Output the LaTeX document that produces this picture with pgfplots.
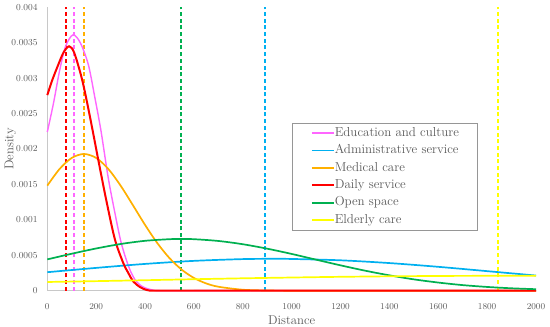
\documentclass[border=0pt]{standalone}
\usepackage{pgfplots}
\pgfplotsset{compat=1.18}
\definecolor{cpink}{RGB}{255,102,255}
\definecolor{cblue}{RGB}{0,176,240}
\definecolor{corange}{RGB}{255,176,0}
\definecolor{cred}{RGB}{255,0,0}
\definecolor{cgreen}{RGB}{0,176,80}
\definecolor{cyellow}{RGB}{255,255,0}
\definecolor{txtgray}{RGB}{89,89,89}
\definecolor{axisgray}{RGB}{200,200,200}
\definecolor{legendgray}{RGB}{150,150,150}
\newcommand{\legtxt}[1]{\textcolor{txtgray}{#1}}
\begin{document}
\begin{tikzpicture}
\useasboundingbox (-47.3bp,-36.3bp) rectangle (502.7bp,290.7bp);
\begin{axis}[
  at={(0,0)}, anchor=south west,
  width=488.7bp, height=283.4bp, scale only axis,
  xmin=0, xmax=2000, ymin=0, ymax=0.004,
  clip=false,
  axis x line=bottom, axis y line=left,
  axis line style={draw=axisgray, line width=0.8bp, -},
  xtick={0,200,400,600,800,1000,1200,1400,1600,1800,2000},
  ytick={0,0.0005,0.001,0.0015,0.002,0.0025,0.003,0.0035,0.004},
  yticklabels={0,0.0005,0.001,0.0015,0.002,0.0025,0.003,0.0035,0.004},
  scaled y ticks=false, scaled x ticks=false,
  /pgf/number format/1000 sep={},
  major tick length=0pt,
  tick label style={font=\fontsize{9.2}{10}\selectfont, text=txtgray},
  xticklabel style={anchor=north, inner sep=0pt, yshift=-12.5bp},
  yticklabel style={anchor=east, inner sep=0pt, xshift=-9.5bp},
  xlabel={Distance}, ylabel={Density},
  every axis x label/.style={at={(axis description cs:0.5,-0.1035)}, anchor=center,
    font=\fontsize{12.8}{14}\selectfont, text=txtgray},
  every axis y label/.style={at={(axis description cs:-0.0757,0.5)}, rotate=90, anchor=center,
    font=\fontsize{12.8}{14}\selectfont, text=txtgray},
  legend cell align=left,
  legend style={at={(0.502,0.591)}, anchor=north west, draw=none, name=legbox,
    fill=white, inner xsep=18bp, inner ysep=1bp,
    font=\fontsize{13}{15}\selectfont, row sep=0pt,
    nodes={inner xsep=0pt, inner ysep=2.45bp, text height=9.5bp, text depth=3bp}},
  legend image code/.code={\draw[#1] (0bp,0bp) -- (22bp,0bp);},
]
% dashed reference lines
\addplot[forget plot, draw=cred, line width=2bp, dash pattern=on 4bp off 2.7bp] coordinates {(78,0)(78,0.004)};
\addplot[forget plot, draw=cpink, line width=2bp, dash pattern=on 4bp off 2.7bp] coordinates {(108,0)(108,0.004)};
\addplot[forget plot, draw=corange, line width=2bp, dash pattern=on 4bp off 2.7bp] coordinates {(150,0)(150,0.004)};
\addplot[forget plot, draw=cgreen, line width=2bp, dash pattern=on 4bp off 2.7bp] coordinates {(548,0)(548,0.004)};
\addplot[forget plot, draw=cblue, line width=2bp, dash pattern=on 4bp off 2.7bp] coordinates {(890,0)(890,0.004)};
\addplot[forget plot, draw=cyellow, line width=2bp, dash pattern=on 4bp off 2.7bp] coordinates {(1846,0)(1846,0.004)};

% Education and culture
\addplot[draw=cpink, line width=1.4bp, smooth] coordinates {
(0,0.00224)(25,0.00264)(50,0.00310)(75,0.00345)(105,0.00361)(135,0.00350)(168,0.00319)(195,0.00272)(220,0.00225)(250,0.00158)(280,0.00104)(300,0.00071)(320,0.00047)(340,0.00028)(360,0.00015)(380,0.00008)(400,0.00004)(430,0.00001)(460,0)(600,0)(1000,0)(2000,0)};
\addlegendentry{\legtxt{Education and culture}}
% Administrative service
\addplot[draw=cblue, line width=1.7bp, smooth] coordinates {
(0,0.000261)(200,0.000322)(400,0.000378)(600,0.000421)(800,0.000446)(925,0.00045)(1000,0.000448)(1200,0.000429)(1400,0.000390)(1600,0.000337)(1800,0.000276)(2000,0.000214)};
\addlegendentry{\legtxt{Administrative service}}
% Medical care
\addplot[draw=corange, line width=1.7bp, smooth] coordinates {
(0,0.001483)(50,0.001717)(100,0.001874)(150,0.00193)(200,0.001874)(250,0.001717)(300,0.001483)(350,0.001209)(400,0.000929)(450,0.000673)(500,0.000460)(550,0.000297)(600,0.000180)(650,0.000103)(700,0.000056)(800,0.0000137)(900,0.0000027)(1000,0.0000004)(1200,0)(1600,0)(2000,0)};
\addlegendentry{\legtxt{Medical care}}
% Daily service
\addplot[draw=cred, line width=2bp, smooth] coordinates {
(0,0.00276)(20,0.00297)(45,0.00319)(66,0.00336)(89,0.00345)(110,0.00336)(141,0.00300)(165,0.00262)(189,0.00220)(209,0.00184)(243,0.00125)(277,0.00072)(311,0.00039)(330,0.00026)(352,0.00013)(380,0.00005)(407,0.00001)(440,0)(600,0)(1000,0)(2000,0)};
\addlegendentry{\legtxt{Daily service}}
% Open space
\addplot[draw=cgreen, line width=1.7bp, smooth] coordinates {
(0,0.000442)(100,0.000522)(200,0.000596)(300,0.000659)(400,0.000704)(500,0.000727)(548,0.00073)(600,0.000727)(700,0.000702)(800,0.000656)(900,0.000593)(1000,0.000519)(1100,0.000438)(1200,0.000358)(1300,0.000283)(1400,0.000217)(1500,0.000160)(1600,0.000115)(1700,0.000079)(1800,0.000053)(1900,0.000034)(2000,0.000021)};
\addlegendentry{\legtxt{Open space}}
% Elderly care
\addplot[draw=cyellow, line width=1.7bp, smooth] coordinates {
(0,0.000123)(200,0.000135)(400,0.000148)(600,0.000162)(800,0.000175)(1000,0.000186)(1200,0.000196)(1400,0.000203)(1600,0.000208)(1800,0.000210)(2000,0.000210)};
\addlegendentry{\legtxt{Elderly care}}
\end{axis}
\draw[legendgray, line width=0.8bp] (legbox.south west) rectangle (legbox.north east);
\end{tikzpicture}
\end{document}
